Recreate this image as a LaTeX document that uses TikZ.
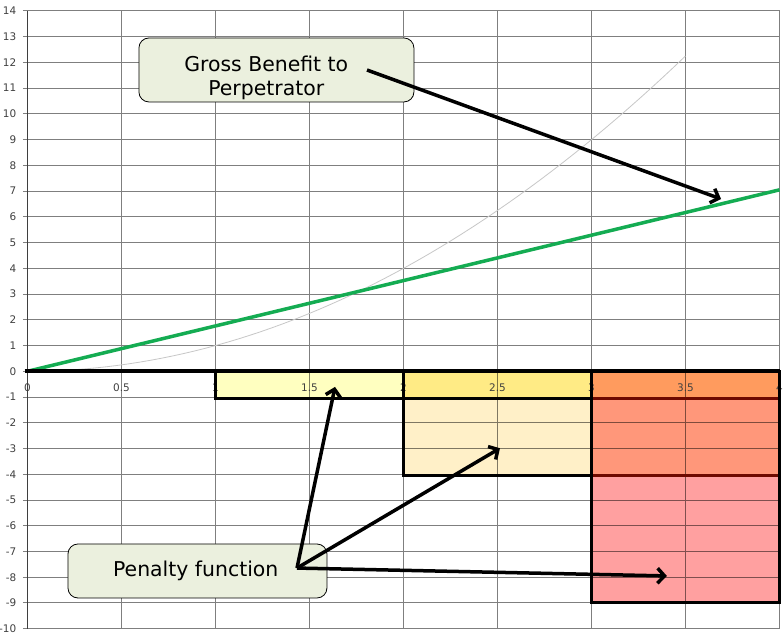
\documentclass[tikz,border=0pt]{standalone}
\usepackage{fontspec}
\setmainfont{DejaVu Sans}
\usetikzlibrary{arrows.meta}

\definecolor{calloutfill}{RGB}{235,240,222}
\definecolor{benefit}{RGB}{20,172,82}
\definecolor{bandA}{RGB}{255,255,192}
\definecolor{bandAB}{RGB}{255,235,133}
\definecolor{bandB}{RGB}{255,240,200}
\definecolor{bandABC}{RGB}{255,155,94}
\definecolor{bandBC}{RGB}{255,151,122}
\definecolor{bandC}{RGB}{255,160,160}
\definecolor{edgeC}{RGB}{110,10,0}

\begin{document}
\begin{tikzpicture}	[
		x = 188bp,
		y = 25.74bp,
		grd/.style = {
			draw = black,
			draw opacity = 0.5,
			line width = 1bp
		},
		lbl/.style = {
			inner sep = 0pt,
			font = \fontsize{10.5}{12}\selectfont,
			text = black!75
		},
		edge/.style = {
			line width = 3bp,
			line join = miter
		},
		callout/.style = {
			draw,
			rounded corners = 10bp,
			fill = calloutfill,
			line width = 0.8bp
		},
		callouttext/.style = {
			align = center,
			font = \fontsize{20.5}{24.5}\selectfont
		},
		ptr/.style = {
			line width = 3.5bp,
			-{Straight Barb[length=7bp,width=15bp]}
		}
	]

	\useasboundingbox [fill=white] (-0.14628,-10.167) rectangle (4.01862,14.425);

	\fill [bandA] (1,0) rectangle (2,-1.05);
	\fill [bandAB] (2,0) rectangle (3,-1.05);
	\fill [bandB] (2,-1.05) rectangle (3,-4.05);
	\fill [bandABC] (3,0) rectangle (4,-1.05);
	\fill [bandBC] (3,-1.05) rectangle (4,-4.05);
	\fill [bandC] (3,-4.05) rectangle (4,-9);

	\draw [grd] (0,-10) grid [xstep=0.5, ystep=1] (4,14);
	\draw [grd] (-0.025,-10) grid [xstep=1, ystep=1] (0,14);

	\draw [black!22, line width=0.8bp] plot [domain=0:3.5, samples=60] (\x,{\x*\x});
	\draw [benefit, line width=3.5bp] (0,0) -- (4,7.05);

	\foreach \v in {-10,...,14}
		\node [lbl, anchor=east] at (-0.0585,\v) {\v};
	\foreach \u in {0,0.5,1,1.5,2,2.5,3,3.5,4}
		\node [lbl] at (\u,-0.65) {\u};

	\draw [edge] (1,0) rectangle (4,-1.05);
	\draw [edge] (2,0) rectangle (4,-4.05);
	\draw [edge, edgeC] (3,-1.05) -- (4,-1.05) (3,-4.05) -- (4,-4.05);
	\draw [edge] (3,0) rectangle (4,-9);
	\draw [line width=4bp] (-0.015,0) -- (4,0);

	\node [callout, minimum width=275bp, minimum height=64bp] (gross) at (1.324,11.707) {};
	\node [callouttext] (grosstext) at (1.27,11.4) {Gross Benefit to\\Perpetrator};
	\node [callout, minimum width=259bp, minimum height=54bp] (penalty) at (0.904,-7.758) {};
	\node [callouttext] (penaltytext) at (0.895,-7.75) {Penalty function};

	\coordinate (grossfrom) at (1.806,11.705);
	\coordinate (grossto) at (3.689,6.694);
	\coordinate (penfrom) at (1.4335,-7.644);
	\coordinate (penlow) at (1.6356,-0.606);
	\coordinate (penmid) at (2.513,-2.99);
	\coordinate (penhigh) at (3.401,-7.95);

	\draw [ptr] (grossfrom) -- (grossto);
	\draw [ptr] (penfrom) -- (penlow);
	\draw [ptr] (penfrom) -- (penmid);
	\draw [ptr] (penfrom) -- (penhigh);
\end{tikzpicture}
\end{document}
